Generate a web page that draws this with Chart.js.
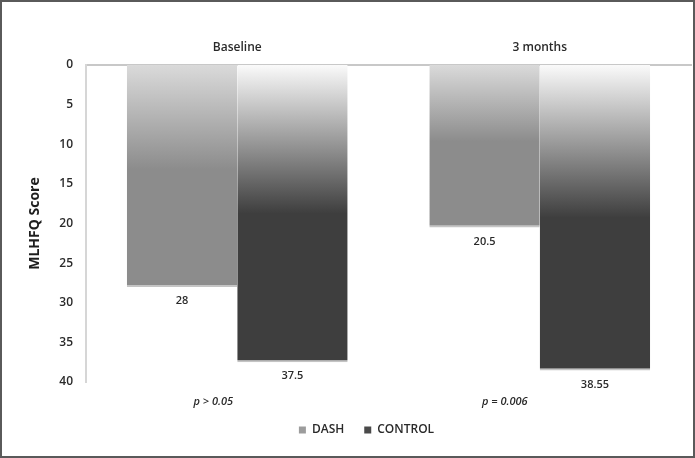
<!DOCTYPE html>
<html>
<head>
<meta charset="utf-8">
<script src="https://cdn.jsdelivr.net/npm/chart.js@4.4.0/dist/chart.umd.min.js"></script>
<style>
  html, body { margin: 0; padding: 0; background: #fff; }
  #frame {
    width: 695px; height: 458px; box-sizing: border-box;
    border: 2px solid #5a5a5a; background: #fff; position: relative;
  }
  #chart { display: block; }
</style>
</head>
<body>
<div id="frame"><canvas id="chart" width="691" height="454"></canvas></div>
<script>
// Dados do gráfico
const categorias = ['Baseline', '3 months'];
const dash = [28, 20.5];
const controle = [37.5, 38.55];
const pValores = ['p > 0.05', 'p = 0.006'];
const yTicks = [0, 5, 10, 15, 20, 25, 30, 35, 40];

const fonte = '"Open Sans", "DejaVu Sans", sans-serif';
const corTexto = '#2a2a2a';

// Gradiente por barra (do topo da barra até ~metade, depois cor sólida)
function gradienteBarra(corTopo, corBase, meio) {
    return function (context) {
        const chart = context.chart;
        const y = chart.scales && chart.scales.y;
        if (!chart.chartArea || !y || context.type !== 'data') return corBase;
        const topo = y.getPixelForValue(0);
        const fim = y.getPixelForValue(context.raw);
        if (!isFinite(topo) || !isFinite(fim) || fim === topo) return corBase;
        const g = chart.ctx.createLinearGradient(0, topo, 0, fim);
        g.addColorStop(0, corTopo);
        g.addColorStop(meio, corBase);
        g.addColorStop(1, corBase);
        return g;
    };
}

// Rótulos de valores e p-valores
const rotulosPlugin = {
    id: 'rotulos',
    afterDatasetsDraw(chart) {
        const ctx = chart.ctx;
        ctx.save();
        ctx.fillStyle = corTexto;
        ctx.textAlign = 'center';
        ctx.textBaseline = 'middle';
        ctx.font = '600 11px ' + fonte;
        chart.data.datasets.forEach((ds, i) => {
            chart.getDatasetMeta(i).data.forEach((bar, j) => {
                ctx.fillText(String(ds.data[j]), bar.x, bar.y + 14);
            });
        });
        ctx.font = 'italic 600 11px ' + fonte;
        const deslocamento = [-24, -35];
        pValores.forEach((p, j) => {
            const x = chart.scales.x.getPixelForValue(j) + deslocamento[j];
            ctx.fillText(p, x, chart.chartArea.bottom + 20);
        });
        ctx.restore();
    }
};

// Ajusta a legenda para a posição do original
const legendaPlugin = {
    id: 'ajusteLegenda',
    afterLayout(chart) {
        const lg = chart.legend;
        if (!lg) return;
        lg.left += 20; lg.right += 20;
        lg.top += 22; lg.bottom += 22;
    }
};

const ctx = document.getElementById('chart');
new Chart(ctx, {
    type: 'bar',
    data: {
        labels: categorias,
        datasets: [{
            label: 'DASH',
            data: dash,
            backgroundColor: gradienteBarra('#dadada', '#8c8c8c', 0.47),
            borderColor: '#c4c4c4',
            borderWidth: { top: 0, left: 0, right: 0, bottom: 2 },
            borderSkipped: false,
            categoryPercentage: 0.73,
            barPercentage: 1.0
        }, {
            label: 'CONTROL',
            data: controle,
            backgroundColor: gradienteBarra('#fafafa', '#3e3e3e', 0.5),
            borderColor: '#c4c4c4',
            borderWidth: { top: 0, left: 0, right: 0, bottom: 2 },
            borderSkipped: false,
            categoryPercentage: 0.73,
            barPercentage: 1.0
        }]
    },
    options: {
        responsive: false,
        animation: false,
        events: [],
        layout: { padding: { left: 0, right: 2, top: 0, bottom: 32 } },
        plugins: {
            legend: {
                position: 'bottom',
                labels: {
                    boxWidth: 7,
                    boxHeight: 7,
                    padding: 20,
                    color: corTexto,
                    font: { family: fonte, size: 12, weight: '600' },
                    generateLabels: function (chart) {
                        const cores = ['#9c9c9c', '#4a4a4a'];
                        return chart.data.datasets.map((ds, i) => ({
                            text: ds.label,
                            fillStyle: cores[i],
                            strokeStyle: cores[i],
                            lineWidth: 0,
                            fontColor: corTexto,
                            hidden: false,
                            datasetIndex: i
                        }));
                    }
                }
            },
            tooltip: { enabled: false }
        },
        scales: {
            x: {
                position: 'top',
                grid: { display: false, drawTicks: false },
                border: { display: true, color: '#c8c8c8', width: 2 },
                ticks: {
                    color: corTexto,
                    padding: 10,
                    font: { family: fonte, size: 12, weight: '600' }
                },
                afterFit: function (scale) { scale.height = 63; }
            },
            y: {
                reverse: true,
                min: 0,
                max: 40,
                grid: { display: false, drawTicks: false },
                border: { display: true, color: '#d6d6d6', width: 2 },
                afterBuildTicks: function (scale) {
                    scale.ticks = yTicks.map(v => ({ value: v }));
                },
                ticks: {
                    color: corTexto,
                    padding: 13,
                    font: { family: fonte, size: 12, weight: '600' }
                },
                title: {
                    display: true,
                    text: 'MLHFQ Score',
                    color: '#1e1e1e',
                    padding: { top: 25, bottom: 0 },
                    font: { family: fonte, size: 14, weight: 'bold' }
                },
                afterFit: function (scale) { scale.width = 84; }
            }
        }
    },
    plugins: [rotulosPlugin, legendaPlugin]
});
</script>
</body>
</html>
